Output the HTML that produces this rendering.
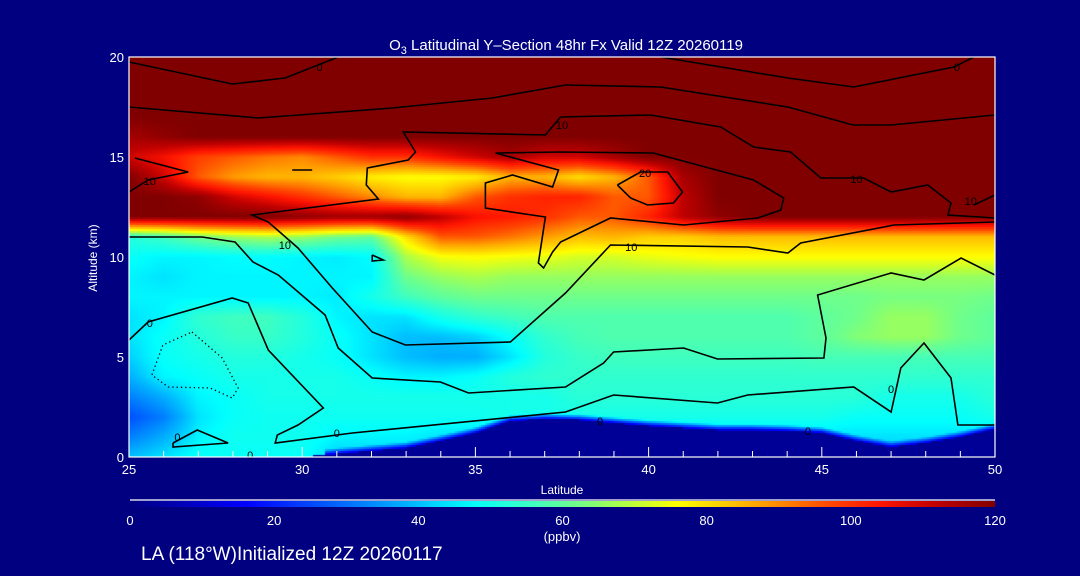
<!DOCTYPE html>
<html><head><meta charset="utf-8">
<style>
html,body{margin:0;padding:0;background:#000080;}
#wrap{position:relative;width:1080px;height:576px;background:#000080;overflow:hidden;font-family:"Liberation Sans",sans-serif;}
#field{position:absolute;left:129px;top:57px;}
#ov{position:absolute;left:0;top:0;}
</style></head>
<body>
<div id="wrap">
<canvas id="field" width="866" height="400"></canvas>
<svg id="ov" width="1080" height="576">
  <text x="566" y="50" fill="#fff" font-size="15" text-anchor="middle">O<tspan font-size="11" dy="4">3</tspan><tspan dy="-4"> Latitudinal Y–Section 48hr  Fx Valid 12Z 20260119</tspan></text>
  <g id="contours"></g>
  <g id="axes"></g>
  <text x="562" y="494" fill="#fff" font-size="12" text-anchor="middle">Latitude</text>
  <text x="97" y="258" fill="#fff" font-size="12" text-anchor="middle" transform="rotate(-90 97 258)">Altitude (km)</text>
  <defs><linearGradient id="cbg" x1="0" x2="1" y1="0" y2="0"></linearGradient></defs>
  <line x1="130" y1="500" x2="995" y2="500" stroke="#fff" stroke-width="1.2"/>
  <rect x="130" y="501" width="865" height="6" fill="url(#cbg)"/>
  <g id="cbticks"></g>
  <text x="562" y="541" fill="#fff" font-size="13" text-anchor="middle">(ppbv)</text>
  <text x="141" y="560" fill="#fff" font-size="19">LA (118°W)Initialized 12Z 20260117</text>
</svg>
</div>
<script>
const lats=[25,26,27,28,29,30,31,32,33,34,35,36,37,38,39,40,41,42,43,44,45,46,47,48,49,50];
const alts=[0,1,2,3,4,5,6,7,8,9,10,11,12,13,14,15,16,17,18,19,20];
const o3_alt0=[40,44,48,48,48,48,42,42,42,40,40,40,40,40,40,40,40,40,40,40,40,40,40,40,40,40];
const o3_alt1=[32,38,46,49,49,49,46,46,46,44,44,44,44,44,44,44,44,44,44,44,44,44,44,44,44,44];
const o3_alt2=[26,32,44,48,49,49,49,49,49,49,49,50,50,50,50,50,50,50,50,50,50,48,48,48,48,50];
const o3_alt3=[32,38,46,48,50,50,50,50,50,50,50,50,50,53,53,53,53,53,53,53,53,53,50,50,50,53];
const o3_alt4=[38,46,48,50,50,50,50,48,46,46,48,52,54,54,54,54,54,54,54,54,54,54,54,54,54,54];
const o3_alt5=[42,48,50,52,52,50,48,44,40,38,38,44,52,55,56,56,56,56,56,56,57,57,57,57,57,57];
const o3_alt6=[44,48,52,55,55,52,48,44,40,40,42,48,54,57,58,58,58,58,58,58,60,64,66,66,62,60];
const o3_alt7=[44,46,54,56,56,52,46,44,44,50,54,56,58,58,58,58,58,58,58,58,60,62,66,66,62,60];
const o3_alt8=[46,46,46,46,46,46,45,50,56,60,62,62,62,62,62,62,62,62,62,62,62,62,63,63,63,62];
const o3_alt9=[46,44,46,46,46,46,46,46,62,66,68,66,66,66,66,66,66,66,66,66,66,66,66,66,66,66];
const o3_alt10=[48,46,46,47,47,46,45,47,68,75,76,75,74,72,72,74,75,76,76,76,76,76,76,76,76,76];
const o3_alt11=[52,56,62,66,68,66,62,60,80,95,95,92,88,84,85,82,82,84,84,84,84,84,84,84,84,84];
const o3_alt12=[120,120,120,120,120,118,116,116,118,112,105,103,100,95,95,102,112,118,120,120,120,120,120,120,120,120];
const o3_alt13=[120,120,118,110,105,100,95,90,85,85,95,100,102,102,95,95,112,120,120,120,120,120,120,120,120,120];
const o3_alt14=[120,110,95,88,85,85,82,78,76,76,78,85,85,80,85,95,115,120,120,120,120,120,120,120,120,120];
const o3_alt15=[110,105,98,95,92,90,95,100,100,105,110,115,110,110,115,120,120,120,120,120,120,120,120,120,120,120];
const o3_alt16=[115,118,120,120,120,120,120,120,120,120,120,120,120,120,120,120,120,120,120,120,120,120,120,120,120,120];
const o3_alt17=[120,120,120,120,120,120,120,120,120,120,120,120,120,120,120,120,120,120,120,120,120,120,120,120,120,120];
const o3_alt18=o3_alt17, o3_alt19=o3_alt17, o3_alt20=o3_alt17;
const ozone=[o3_alt0,o3_alt1,o3_alt2,o3_alt3,o3_alt4,o3_alt5,o3_alt6,o3_alt7,o3_alt8,o3_alt9,o3_alt10,o3_alt11,o3_alt12,o3_alt13,o3_alt14,o3_alt15,o3_alt16,o3_alt17,o3_alt18,o3_alt19,o3_alt20];
const groundKm=[0,0,0,0,0,0,0.15,0.3,0.45,0.8,1.2,1.8,1.9,1.85,1.7,1.55,1.45,1.35,1.35,1.3,1.2,0.8,0.5,0.7,1.0,1.4];
const xTicks=[25,30,35,40,45,50];
const yTicks=[0,5,10,15,20];
const cbTicks=[0,20,40,60,80,100,120];
const cA=[[25,19.75],[27.98,18.65],[29.51,18.95],[31.04,20]];
const cB=[[40.35,20],[44.02,18.95],[45.92,18.5],[48.82,19.5],[49.39,20]];
const cC=[[25,17.5],[28.73,16.95],[32.6,17.45],[35.49,17.95],[37.6,18.6],[40.35,18.5],[44.02,17.5],[45.9,16.6],[47.0,16.6],[50,17.1]];
const cD=[[37.46,17.0],[40.06,17.1],[42.08,16.5],[43.03,15.5],[44.1,15.25],[44.97,13.95],[46.21,13.95],[47.0,13.25],[48.06,13.6],[48.73,12.7],[48.64,12.1],[50,11.95]];
const cG=[[37.46,17.0],[37.02,16.1],[32.92,16.25],[33.27,15.25],[33.06,14.85],[31.88,14.45],[31.85,13.6],[32.2,12.9],[28.55,12.1],[29.02,11.75],[29.88,10.45],[30.87,8.45],[32.02,6.25],[32.98,5.6],[36.01,5.75],[37.6,8.2],[38.9,10.6],[42.86,10.5],[44.02,10.2],[44.39,10.7],[47.08,11.6],[50,11.75]];
const cH=[[25,11],[27.11,11],[28.06,10.75],[28.58,9.75],[29.31,9.1],[30.66,7.1],[31.04,5.45],[32.02,3.95],[33.99,3.75],[34.8,3.2],[37.6,3.5],[38.7,4.7],[38.99,5.25],[41.01,5.45],[41.99,4.9],[45.06,4.95],[45.12,5.95],[44.88,8.1],[47.0,9.2],[47.95,8.85],[49.02,9.95],[50,9.1]];
const cI=[[25,5.85],[25.55,6.75],[27.98,7.95],[28.44,7.7],[29.02,5.35],[30.61,2.45],[29.88,1.6],[29.28,1.1],[29.22,0.7],[31.45,1.2],[37.6,2.25],[38.99,3.1],[41.99,2.7],[42.86,3.1],[45.92,3.5],[47.0,2.25],[47.28,4.45],[47.95,5.7],[48.73,3.95],[48.93,1.6],[50,1.6]];
const cJ=[[26.27,0.7],[26.97,1.35],[27.86,0.7],[26.27,0.5],[26.27,0.7]];
const cL=[[29.71,14.35],[30.29,14.35]];
const cM=[[32.02,10.1],[32.34,9.85],[32.02,9.8],[32.02,10.1]];
const cN=[[39.1,13.6],[39.77,14.25],[40.55,14.25],[40.98,13.25],[40.72,12.7],[39.97,12.6],[39.48,12.95],[39.1,13.6]];
const cP=[[35.58,15.2],[37.46,15.25],[40.14,15.2],[43.03,13.85],[43.9,12.95],[43.82,12.35],[43.15,11.95],[41.01,11.6],[38.9,11.95],[37.46,10.75],[37.23,10.25],[36.97,9.45],[36.82,9.7],[37.02,12.0],[35.29,12.45],[35.29,13.7],[36.07,14.1],[37.23,13.5],[37.4,14.35],[35.58,15.2]];
const cQ=[[25,13.25],[25.55,13.85],[26.71,14.25],[25.17,14.95]];
const cR=[[49.39,12.6],[50,13.1]];
const cDot=[[26.82,6.25],[27.69,4.95],[28.15,3.45],[27.98,2.95],[27.34,3.45],[26.13,3.5],[25.66,4.1],[25.98,5.6]];
const solidContours=[cA,cB,cC,cD,cG,cH,cI,cJ,cL,cM,cN,cP,cQ,cR];
const contourLabels=[["0",30.5,19.5],["0",48.9,19.5],["10",37.5,16.6],["10",25.6,13.8],["10",29.5,10.6],["20",39.9,14.2],["10",46.0,13.9],["10",49.3,12.8],["10",39.5,10.5],["0",25.6,6.7],["0",31.0,1.2],["0",26.4,1.0],["0",28.5,0.1],["0",47.0,3.4],["0",38.6,1.8],["0",44.6,1.3]];

const X0=129,X1=995,Y0=57,Y1=457;
function xs(lat){return X0+(lat-25)/25*(X1-X0);}
function ys(alt){return Y1-alt/20*(Y1-Y0);}
const cmStops=[[0,[0,0,128]],[8,[0,0,190]],[16,[0,0,255]],[30,[0,110,255]],[40,[0,190,255]],[47,[0,255,255]],[54,[48,255,208]],[62,[110,255,140]],[69,[180,255,64]],[76,[255,255,0]],[87,[255,165,0]],[97,[255,70,0]],[104,[255,20,0]],[112,[190,0,0]],[120,[128,0,0]]];
function cmap(v){
  if(v<=0)return cmStops[0][1];
  for(let i=1;i<cmStops.length;i++){
    if(v<=cmStops[i][0]){const a=cmStops[i-1],b=cmStops[i];const t=(v-a[0])/(b[0]-a[0]);
      return [0,1,2].map(k=>Math.round(a[1][k]+(b[1][k]-a[1][k])*t));}
  }
  return cmStops[cmStops.length-1][1];
}
function interp1(arr,lat){const f=lat-25;const i=Math.max(0,Math.min(arr.length-2,Math.floor(f)));const t=f-i;return arr[i]*(1-t)+arr[i+1]*t;}
function field(lat,alt){
  const j=Math.max(0,Math.min(alts.length-2,Math.floor(alt)));const u=alt-j;
  return interp1(ozone[j],lat)*(1-u)+interp1(ozone[j+1],lat)*u;
}
const cv=document.getElementById('field');const ctx=cv.getContext('2d');
const W=X1-X0,H=Y1-Y0,S=2;
for(let py=0;py<H;py+=S){for(let px=0;px<W;px+=S){
  const lat=25+(px+S/2)/W*25, alt=20-(py+S/2)/H*20;
  let v=field(lat,alt);const g=interp1(groundKm,lat);
  if(alt<g)v=3;else if(g>0.1&&alt<g+0.3){const t=(alt-g)/0.3;v=12*(1-t)+v*t;}
  const c=cmap(v);ctx.fillStyle='rgb('+c[0]+','+c[1]+','+c[2]+')';ctx.fillRect(px,py,S,S);
}}
const NS='http://www.w3.org/2000/svg';
function mk(tag,attrs,parent){const e=document.createElementNS(NS,tag);for(const k in attrs)e.setAttribute(k,attrs[k]);parent.appendChild(e);return e;}
const cg=document.getElementById('contours');
solidContours.forEach(function(c){
  const e=mk('polyline',{points:c.map(p=>xs(p[0]).toFixed(1)+','+ys(p[1]).toFixed(1)).join(' '),fill:'none',stroke:'#000','stroke-width':'1.6'},cg);
  
  
});
const dl=mk('polygon',{points:cDot.map(p=>xs(p[0]).toFixed(1)+','+ys(p[1]).toFixed(1)).join(' '),fill:'none',stroke:'#000','stroke-width':'1.3','stroke-dasharray':'1.3 3'},cg);


contourLabels.forEach(function(l){
  const t=mk('text',{x:xs(l[1]),y:ys(l[2])+4,'font-size':'11',fill:'#000','text-anchor':'middle'},cg);t.textContent=l[0];
  
  
});
const ax=document.getElementById('axes');
const fr=mk('rect',{x:X0,y:Y0,width:W,height:H,fill:'none',stroke:'#fff','stroke-width':'1.2'},ax);


for(let lat=25;lat<=50;lat++){
  const major=xTicks.indexOf(lat)>=0;
  const tk=mk('line',{x1:xs(lat),x2:xs(lat),y1:Y1,y2:Y1-(major?10:6),stroke:'#fff','stroke-width':'1'},ax);
  
  
}
xTicks.forEach(function(v){
  const t=mk('text',{x:xs(v),y:Y1+17,'font-size':'13',fill:'#fff','text-anchor':'middle'},ax);t.textContent=v;
  
  
});
yTicks.forEach(function(v){
  const t=mk('text',{x:X0-5,y:ys(v)+5,'font-size':'13',fill:'#fff','text-anchor':'end'},ax);t.textContent=v;
  
  
});
const gr=document.getElementById('cbg');
for(let v=0;v<=120;v+=4){const c=cmap(v);mk('stop',{offset:(v/120).toFixed(3),'stop-color':'rgb('+c[0]+','+c[1]+','+c[2]+')'},gr);}
const cbt=document.getElementById('cbticks');
cbTicks.forEach(function(v){
  const t=mk('text',{x:130+v/120*865,y:525,'font-size':'13',fill:'#fff','text-anchor':'middle'},cbt);t.textContent=v;
  
  
});
</script>
</body></html>
